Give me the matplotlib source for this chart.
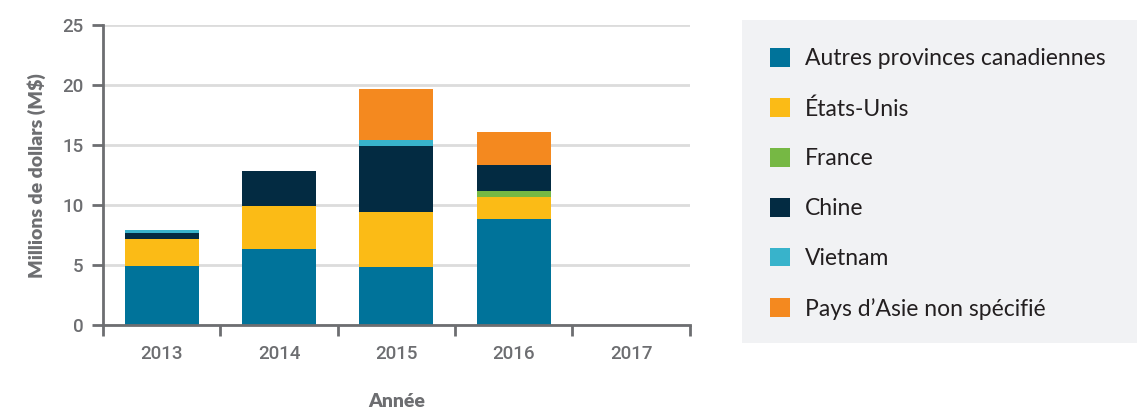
import matplotlib.pyplot as plt
from matplotlib.patches import Rectangle
import numpy as np

years = ["2013", "2014", "2015", "2016", "2017"]
autres = [4.95, 6.3, 4.8, 8.8, 0]
usa = [2.25, 3.65, 4.65, 1.85, 0]
france = [0, 0, 0, 0.5, 0]
chine = [0.5, 2.9, 5.5, 2.15, 0]
vietnam = [0.25, 0, 0.5, 0, 0]
asie = [0, 0, 4.25, 2.75, 0]

series = [
    ("Autres provinces canadiennes", autres, "#00739a"),
    ("États-Unis", usa, "#fbbb16"),
    ("France", france, "#76b844"),
    ("Chine", chine, "#032b42"),
    ("Vietnam", vietnam, "#38b3cb"),
    ("Pays d\u2019Asie non spécifié", asie, "#f4891f"),
]

grey = "#6d6e71"
plt.rcParams['font.family'] = ['Lato', 'DejaVu Sans']

fig = plt.figure(figsize=(11.37, 4.11), dpi=100)
ax = fig.add_axes([0.0906, 0.209, 0.516, 0.730])

x = np.arange(len(years))
bottom = np.zeros(len(years))
handles = []
for name, vals, col in series:
    b = ax.bar(x, vals, 0.63, bottom=bottom, color=col, label=name, zorder=3)
    handles.append(b)
    bottom += np.array(vals)

ax.set_xlim(-0.5, len(years) - 0.5)
ax.set_ylim(0, 25)
ax.set_yticks(range(0, 26, 5))
ax.set_xticks(x)
ax.set_xticklabels(years, fontsize=13.5, color=grey, family=['Roboto', 'DejaVu Sans'],
                   fontweight='medium')
ax.set_xticks(np.arange(-0.5, len(years)), minor=True)
ax.tick_params(axis='x', which='major', length=0, pad=14)
ax.tick_params(axis='x', which='minor', length=8, width=2, color=grey, direction='out')
ax.tick_params(axis='y', length=8, width=2, color=grey, labelsize=13.5, labelcolor=grey, pad=6)
for lab in ax.get_yticklabels():
    lab.set_family(['Roboto', 'DejaVu Sans'])
    lab.set_fontweight('medium')
ax.yaxis.grid(True, color="#dcdcdc", linewidth=2, zorder=0)
for s in ["top", "right"]:
    ax.spines[s].set_visible(False)
for s in ["left", "bottom"]:
    ax.spines[s].set_color(grey)
    ax.spines[s].set_linewidth(2)
    ax.spines[s].set_zorder(4)

ax.set_ylabel("Millions de dollars (M$)", fontsize=14, fontweight='heavy', color=grey, labelpad=12)
ax.set_xlabel("Année", fontsize=14, fontweight='heavy', color=grey, labelpad=22)

fig.patches.append(Rectangle((742 / 1137, 1 - 343 / 411), 395 / 1137, 323 / 411,
                             transform=fig.transFigure, facecolor="#f1f2f4",
                             edgecolor="none", zorder=0))
leg = fig.legend(handles=handles, loc='upper left', bbox_to_anchor=(761 / 1137, 1 - 39 / 411),
                 frameon=False, fontsize=16.5, handlelength=0.87, handleheight=0.87,
                 labelspacing=1.25, handletextpad=0.65, borderaxespad=0)
for t in leg.get_texts():
    t.set_color("#231f20")

fig.savefig("out.png", dpi=100)
